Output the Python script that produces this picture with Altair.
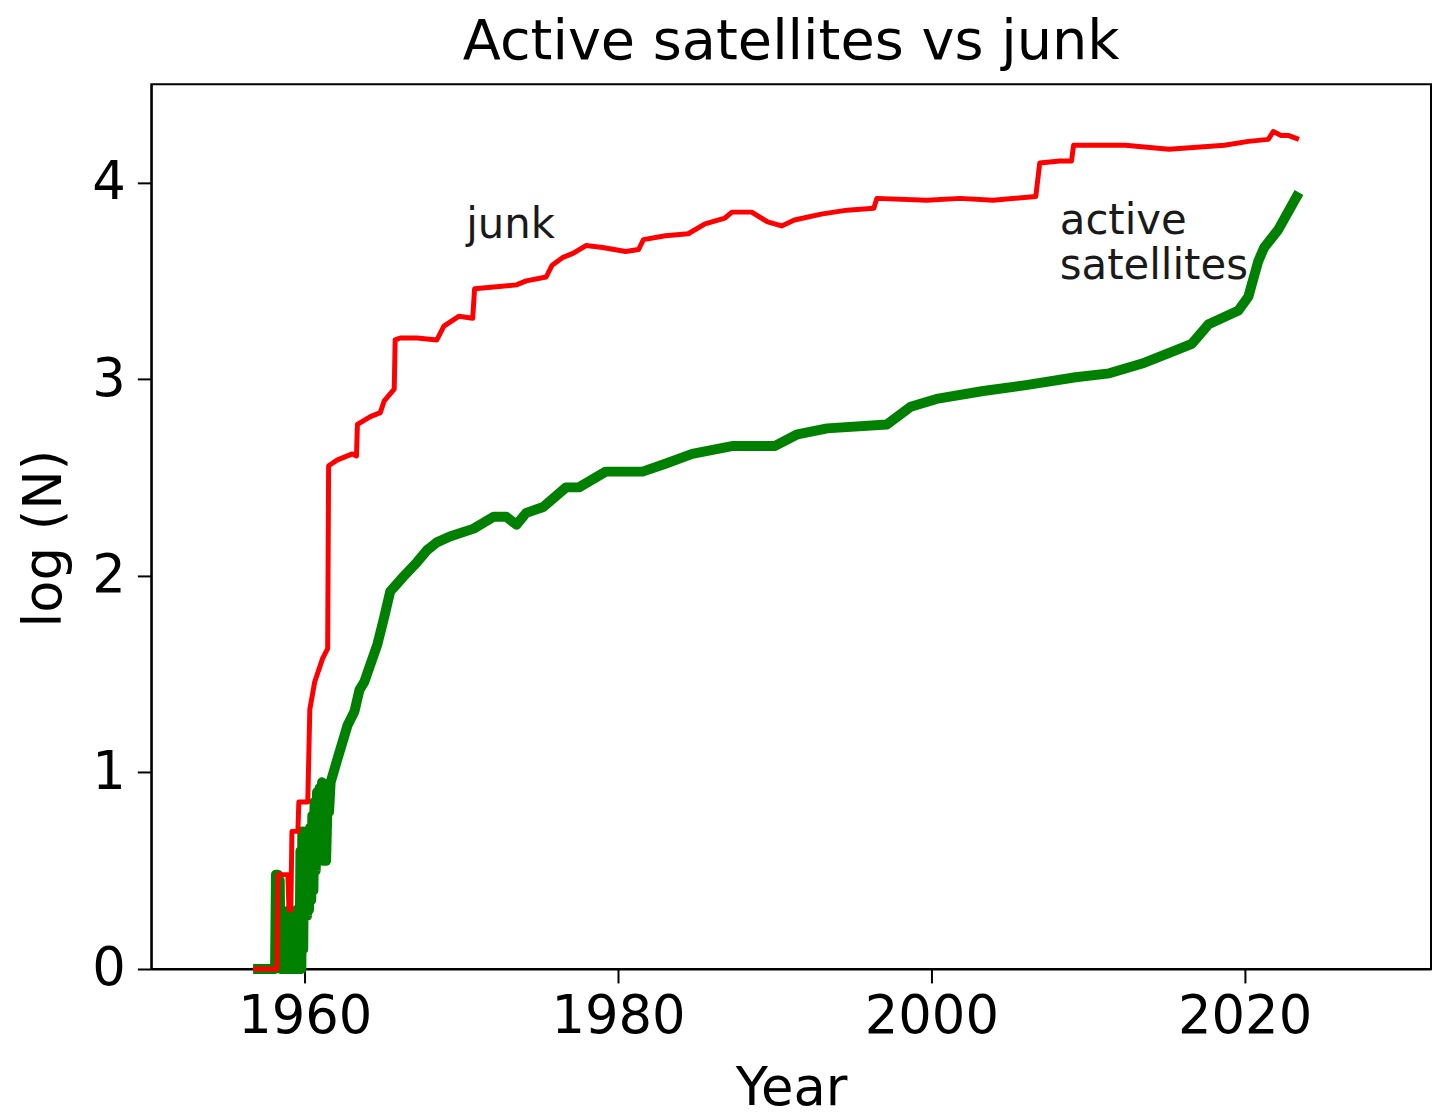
import altair as alt
import pandas as pd

# ---- data ----
junk_year = [1956.70, 1958.22, 1958.29, 1958.92, 1958.99, 1959.11, 1959.18, 1959.56, 1959.62,
             1960.19, 1960.32, 1960.63, 1961.14, 1961.46, 1961.52, 1962.09, 1963.04, 1963.30,
             1963.36, 1964.19, 1964.82, 1965.07, 1965.71, 1965.77, 1966.09, 1967.17, 1968.43,
             1968.88, 1969.83, 1970.72, 1970.84, 1972.24, 1973.51, 1974.14, 1975.41, 1975.79,
             1976.49, 1977.12, 1977.95, 1979.02, 1980.48, 1981.31, 1981.62, 1983.02, 1984.48,
             1985.55, 1986.82, 1987.27, 1988.53, 1989.55, 1990.44, 1991.26, 1992.97, 1994.62,
             1996.33, 1996.52, 1999.70, 2001.85, 2003.94, 2006.67, 2006.92, 2008.19, 2008.95,
             2009.08, 2012.38, 2015.17, 2018.72, 2020.24, 2021.51, 2021.83, 2022.33, 2022.78,
             2023.47]
junk_logn = [0.00, 0.00, 0.48, 0.48, 0.30, 0.30, 0.70, 0.70, 0.85,
             0.85, 1.32, 1.46, 1.58, 1.63, 2.56, 2.59, 2.62, 2.61,
             2.77, 2.81, 2.83, 2.89, 2.95, 3.20, 3.21, 3.21, 3.20,
             3.27, 3.32, 3.31, 3.46, 3.47, 3.48, 3.50, 3.52, 3.58,
             3.62, 3.64, 3.68, 3.67, 3.65, 3.66, 3.71, 3.73, 3.74,
             3.79, 3.82, 3.85, 3.85, 3.80, 3.78, 3.81, 3.84, 3.86,
             3.87, 3.92, 3.91, 3.92, 3.91, 3.93, 4.10, 4.11, 4.11,
             4.19, 4.19, 4.17, 4.19, 4.21, 4.22, 4.26, 4.24, 4.24,
             4.22]

active_year = [1956.70, 1958.10, 1958.16, 1958.22, 1958.28, 1958.34, 1958.40, 1958.46, 1958.52,
               1958.58, 1958.64, 1958.70, 1958.76, 1958.82, 1958.88, 1958.94, 1959.00, 1959.06,
               1959.12, 1959.18, 1959.24, 1959.30, 1959.36, 1959.42, 1959.48, 1959.54, 1959.60,
               1959.66, 1959.72, 1959.78, 1959.84, 1959.90, 1959.96, 1960.02, 1960.08, 1960.14,
               1960.20, 1960.27, 1960.34, 1960.41, 1960.48, 1960.55, 1960.62, 1960.70, 1960.78,
               1960.86, 1960.94, 1961.02, 1961.10, 1961.18, 1961.27, 1961.36, 1961.46, 1961.55,
               1961.65, 1962.09, 1962.73, 1963.17,
               1963.49, 1963.80, 1964.19, 1964.63, 1965.07, 1965.45, 1965.90, 1966.34, 1967.17,
               1967.80, 1968.43, 1969.26, 1970.78, 1972.05, 1972.87, 1973.51, 1974.14, 1975.22,
               1976.68, 1977.50, 1979.21, 1981.56, 1983.02, 1984.73, 1987.27, 1989.99, 1991.45,
               1993.35, 1997.16, 1998.68, 2000.33, 2003.31, 2006.04, 2009.21, 2011.36, 2013.46,
               2016.63, 2017.70, 2019.61, 2020.24, 2020.87, 2021.25, 2022.14, 2023.47]
active_logn = [0.00, 0.00, 0.48, 0.20, 0.48, 0.10, 0.45, 0.00, 0.30,
               0.00, 0.27, 0.00, 0.28, 0.00, 0.27, 0.00, 0.30, 0.00,
               0.27, 0.00, 0.28, 0.00, 0.27, 0.00, 0.30, 0.00, 0.27,
               0.00, 0.60, 0.00, 0.70, 0.10, 0.68, 0.27, 0.70, 0.27,
               0.68, 0.30, 0.72, 0.35, 0.78, 0.40, 0.85, 0.50, 0.90,
               0.55, 0.92, 0.60, 0.95, 0.55, 0.92, 0.55, 0.87, 0.80,
               0.95, 1.07, 1.24, 1.31,
               1.42, 1.46, 1.55, 1.65, 1.79, 1.92, 1.96, 2.00, 2.07,
               2.13, 2.17, 2.20, 2.24, 2.30, 2.30, 2.26, 2.32, 2.35,
               2.45, 2.45, 2.53, 2.53, 2.57, 2.62, 2.66, 2.66, 2.72,
               2.75, 2.77, 2.86, 2.90, 2.94, 2.97, 3.01, 3.03, 3.08,
               3.18, 3.28, 3.35, 3.42, 3.60, 3.67, 3.76, 3.95]

label_text = ["junk", "active", "satellites"]
label_year = [1970.3, 2008.2, 2008.2]
label_logn = [3.72, 3.74, 3.51]

x_ticks = [1960, 1980, 2000, 2020]
y_ticks = [0, 1, 2, 3, 4]

FONT = "DejaVu Sans"

junk_df = pd.DataFrame({"Year": junk_year, "logN": junk_logn, "idx": range(len(junk_year))})
active_df = pd.DataFrame({"Year": active_year, "logN": active_logn, "idx": range(len(active_year))})
label_df = pd.DataFrame({"Year": label_year, "logN": label_logn, "text": label_text})

x_enc = alt.X(
    "Year:Q",
    scale=alt.Scale(domain=[1950.2, 2031.9], nice=False, zero=False),
    axis=alt.Axis(
        values=x_ticks, format="d", title="Year", grid=False,
        labelFontSize=53, titleFontSize=53, labelFont=FONT, titleFont=FONT,
        titleFontWeight="normal", labelColor="black", titleColor="black",
        tickSize=14, tickWidth=2, tickColor="black", domainColor="black", domainWidth=2,
        labelPadding=8, titleY=94, titleBaseline="top", labelFlush=False,
    ),
)
y_enc = alt.Y(
    "logN:Q",
    scale=alt.Scale(domain=[0, 4.5], nice=False, zero=True),
    axis=alt.Axis(
        values=y_ticks, format="d", title="log (N)", grid=False,
        labelFontSize=53, titleFontSize=53, labelFont=FONT, titleFont=FONT,
        titleFontWeight="normal", labelColor="black", titleColor="black",
        tickSize=14, tickWidth=2, tickColor="black", domainColor="black", domainWidth=2,
        labelPadding=12, titleX=-80, titleY=456, labelFlush=False,
    ),
)

active_line = alt.Chart(active_df).mark_line(color="#008000", strokeWidth=10, strokeJoin="round").encode(
    x=x_enc, y=y_enc, order="idx:Q"
)
junk_line = alt.Chart(junk_df).mark_line(color="#ff0000", strokeWidth=5, strokeJoin="round").encode(
    x=x_enc, y=y_enc, order="idx:Q"
)
labels = alt.Chart(label_df).mark_text(
    align="left", baseline="alphabetic", fontSize=42, font=FONT, color="#1a1a1a"
).encode(x="Year:Q", y="logN:Q", text="text:N")

chart = (
    alt.layer(active_line, junk_line, labels)
    .properties(
        width=1286,
        height=889,
        background="white",
        title=alt.TitleParams(
            "Active satellites vs junk", fontSize=56, font=FONT, fontWeight="normal",
            color="black", anchor="middle", frame="group", baseline="alphabetic", offset=-31,
        ),
        autosize=alt.AutoSizeParams(type="none"),
        padding={"left": 144, "top": 74, "right": 2, "bottom": 144},
    )
    .configure_view(stroke="black", strokeWidth=2)
)

chart.save("out.html", embed_options={"renderer": "svg", "actions": False})
